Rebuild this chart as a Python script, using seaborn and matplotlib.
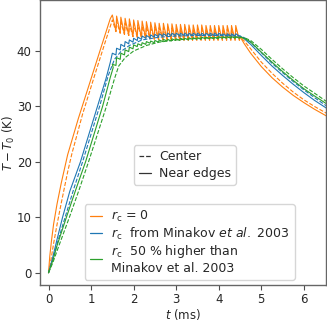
import matplotlib
matplotlib.use("Agg")
import matplotlib.pyplot as plt
from matplotlib.lines import Line2D
import seaborn as sns
import numpy as np
import pandas as pd

# -------------------- Data --------------------

# heating phase (ms, K)
rise_t_orange_edge = [0, 0.03, 0.07, 0.12, 0.2, 0.3, 0.45, 0.7, 1.0, 1.27, 1.45]
rise_T_orange_edge = [0, 3.0, 5.8, 8.8, 12.4, 16.2, 21.3, 27.8, 35.0, 41.5, 45.8]
rise_t_orange_center = [0, 0.05, 0.12, 0.2, 0.3, 0.45, 0.55, 0.8, 1.1, 1.34, 1.45]
rise_T_orange_center = [0, 2.0, 5.3, 8.7, 12.6, 18.2, 21.5, 28.6, 36.0, 41.8, 44.4]
rise_t_blue_edge = [0, 0.1, 0.2, 0.33, 0.5, 0.75, 0.95, 1.15, 1.35, 1.45]
rise_T_blue_edge = [0, 2.8, 6.0, 10.0, 14.7, 20.0, 25.0, 30.0, 35.0, 37.9]
rise_t_blue_center = [0, 0.1, 0.2, 0.39, 0.6, 0.8, 1.0, 1.2, 1.4, 1.55, 1.7, 1.9, 2.2, 2.6, 3.0, 3.5, 4.0]
rise_T_blue_center = [0, 2.3, 5.2, 10.0, 15.3, 20.0, 25.0, 30.0, 35.5, 38.5, 39.9, 41.0, 42.0, 42.5, 42.7, 42.8, 42.8]
rise_t_green_edge = [0, 0.1, 0.2, 0.42, 0.65, 0.87, 1.07, 1.27, 1.45, 1.52]
rise_T_green_edge = [0, 2.2, 4.9, 10.0, 15.2, 20.0, 25.0, 30.0, 35.2, 37.0]
rise_t_green_center = [0, 0.1, 0.25, 0.49, 0.72, 0.94, 1.15, 1.36, 1.55, 1.65, 1.8, 2.0, 2.3, 2.6, 3.0, 3.5, 4.0]
rise_T_green_center = [0, 1.8, 5.0, 10.0, 15.0, 20.0, 25.0, 30.0, 35.0, 37.3, 38.8, 40.0, 41.0, 41.6, 42.0, 42.3, 42.4]

# pulsed plateau: one tooth every 0.1 ms
pulse_t = [1.5, 1.6, 1.7, 1.8, 1.9, 2.0, 2.1, 2.2, 2.3, 2.4,
           2.5, 2.6, 2.7, 2.8, 2.9, 3.0, 3.1, 3.2, 3.3, 3.4,
           3.5, 3.6, 3.7, 3.8, 3.9, 4.0, 4.1, 4.2, 4.3, 4.4]
peak_orange_edge = [46.5, 46.3, 46.1, 45.9, 45.8, 45.6, 45.5, 45.4, 45.3, 45.2,
                    45.1, 45.0, 45.0, 44.9, 44.9, 44.8, 44.8, 44.8, 44.7, 44.7,
                    44.7, 44.7, 44.6, 44.6, 44.6, 44.6, 44.6, 44.6, 44.6, 44.6]
trough_orange_edge = [43.6, 43.3, 43.0, 42.8, 42.6, 42.5, 42.4, 42.3, 42.2, 42.1,
                      42.1, 42.0, 42.0, 41.9, 41.9, 41.9, 41.9, 41.9, 41.9, 41.9,
                      41.9, 41.9, 41.9, 41.9, 41.9, 41.9, 41.9, 41.9, 41.9, 41.9]
peak_orange_center = [45.6, 45.4, 45.2, 45.0, 44.8, 44.7, 44.6, 44.5, 44.4, 44.3,
                      44.3, 44.2, 44.2, 44.1, 44.1, 44.1, 44.0, 44.0, 44.0, 44.0,
                      44.0, 44.0, 43.9, 43.9, 43.9, 43.9, 43.9, 43.9, 43.9, 43.9]
trough_orange_center = [43.5, 43.2, 43.0, 42.8, 42.6, 42.5, 42.4, 42.3, 42.2, 42.2,
                        42.1, 42.1, 42.1, 42.1, 42.1, 42.1, 42.1, 42.1, 42.1, 42.1,
                        42.1, 42.1, 42.1, 42.1, 42.1, 42.1, 42.1, 42.1, 42.1, 42.1]
peak_blue_edge = [39.6, 40.5, 41.2, 41.7, 42.0, 42.3, 42.5, 42.7, 42.8, 42.9,
                  43.0, 43.1, 43.1, 43.2, 43.2, 43.2, 43.2, 43.2, 43.2, 43.2,
                  43.2, 43.2, 43.2, 43.2, 43.2, 43.2, 43.1, 43.1, 43.1, 43.1]
trough_blue_edge = [39.3, 40.2, 40.8, 41.3, 41.6, 41.9, 42.1, 42.3, 42.4, 42.5,
                    42.6, 42.7, 42.7, 42.8, 42.8, 42.8, 42.8, 42.8, 42.8, 42.8,
                    42.8, 42.8, 42.8, 42.8, 42.8, 42.8, 42.7, 42.7, 42.7, 42.7]
peak_green_edge = [37.6, 38.8, 39.6, 40.2, 40.7, 41.1, 41.3, 41.5, 41.7, 41.8,
                   41.9, 42.0, 42.1, 42.1, 42.2, 42.2, 42.3, 42.3, 42.4, 42.4,
                   42.4, 42.5, 42.5, 42.5, 42.5, 42.6, 42.6, 42.6, 42.6, 42.6]
trough_green_edge = [37.4, 38.5, 39.3, 39.9, 40.4, 40.8, 41.0, 41.2, 41.4, 41.5,
                     41.6, 41.7, 41.8, 41.8, 41.9, 41.9, 42.0, 42.0, 42.1, 42.1,
                     42.1, 42.2, 42.2, 42.2, 42.2, 42.3, 42.3, 42.3, 42.3, 42.3]

# cooling phase
decay_t = [4.5, 4.6, 4.75, 5.0, 5.25, 5.5, 5.75, 6.0, 6.25, 6.55]
decay_orange_edge = [42.6, 41.3, 39.6, 37.2, 35.2, 33.5, 32.0, 30.7, 29.5, 28.2]
decay_orange_center = [42.6, 41.8, 40.4, 38.0, 36.0, 34.2, 32.6, 31.2, 30.0, 28.7]
decay_blue_edge = [42.7, 42.2, 41.2, 39.2, 37.3, 35.6, 34.0, 32.5, 31.1, 29.6]
decay_blue_center = [42.7, 42.4, 41.6, 39.7, 37.8, 36.1, 34.5, 33.0, 31.6, 30.0]
decay_green_edge = [42.5, 42.3, 41.6, 39.8, 38.0, 36.3, 34.7, 33.2, 31.9, 30.4]
decay_green_center = [42.5, 42.4, 41.9, 40.3, 38.5, 36.8, 35.2, 33.7, 32.4, 30.8]

x_ticks = [0, 1, 2, 3, 4, 5, 6]
y_ticks = [0, 10, 20, 30, 40]

labels = [r"$r_\mathrm{c}$ = 0",
          r"$r_\mathrm{c}$  from Minakov $\mathit{et\ al.}$ 2003",
          r"$r_\mathrm{c}$  50 % higher than" + "\nMinakov et al. 2003"]
colors = ["#ff7f0e", "#1f77b4", "#2ca02c"]


def build(rise_t, rise_T, decay_T, peaks=None, troughs=None):
    t = list(rise_t)
    T = list(rise_T)
    if peaks is not None:
        for tk, p, q in zip(pulse_t, peaks, troughs):
            t += [tk, tk + 0.085]
            T += [p, q]
    t += decay_t
    T += decay_T
    return pd.DataFrame({"t": t, "T": T})


curves = [
    (build(rise_t_orange_edge, rise_T_orange_edge, decay_orange_edge,
           peak_orange_edge, trough_orange_edge), colors[0], "-"),
    (build(rise_t_orange_center, rise_T_orange_center, decay_orange_center,
           peak_orange_center, trough_orange_center), colors[0], "--"),
    (build(rise_t_blue_edge, rise_T_blue_edge, decay_blue_edge,
           peak_blue_edge, trough_blue_edge), colors[1], "-"),
    (build(rise_t_blue_center, rise_T_blue_center, decay_blue_center), colors[1], "--"),
    (build(rise_t_green_edge, rise_T_green_edge, decay_green_edge,
           peak_green_edge, trough_green_edge), colors[2], "-"),
    (build(rise_t_green_center, rise_T_green_center, decay_green_center), colors[2], "--"),
]

# -------------------- Plot --------------------

sns.set_theme(style="ticks")
plt.rcParams["font.family"] = ["DejaVu Sans"]
plt.rcParams["mathtext.fontset"] = "dejavusans"

fig = plt.figure(figsize=(3.27, 3.21), dpi=100)
ax = fig.add_axes([0.1223, 0.1121, 0.8746, 0.8879])

for df, c, ls in curves:
    sns.lineplot(data=df, x="t", y="T", color=c, linestyle=ls, linewidth=0.8,
                 sort=False, estimator=None, ax=ax)

ax.set_xlim(-0.2, 6.52)
ax.set_ylim(-2.2, 49.2)
ax.set_xticks(x_ticks)
ax.set_yticks(y_ticks)
ax.set_xlabel(r"$t$ (ms)", fontsize=8.5, labelpad=0.5)
ax.set_ylabel(r"$T - T_0$ (K)", fontsize=8.5, labelpad=-0.5)
ax.tick_params(labelsize=8.5, length=3.5, width=0.8, pad=2.5, color="0.3")
for s in ax.spines.values():
    s.set_color("0.4")
    s.set_linewidth(1.0)

style_handles = [Line2D([], [], color="0.2", ls="--", lw=0.9),
                 Line2D([], [], color="0.2", ls="-", lw=0.9)]
leg1 = ax.legend(style_handles, ["Center", "Near edges"], loc="center",
                 bbox_to_anchor=(0.507, 0.421), fontsize=9, handlelength=1.0,
                 handletextpad=0.6, borderpad=0.4, labelspacing=0.3)
ax.add_artist(leg1)

color_handles = [Line2D([], [], color=c, lw=0.9) for c in colors]
ax.legend(color_handles, labels, loc="center", bbox_to_anchor=(0.523, 0.151),
          fontsize=9, handlelength=1.0, handletextpad=0.7, borderpad=0.4,
          labelspacing=0.1)

fig.savefig("out.png", dpi=100)
